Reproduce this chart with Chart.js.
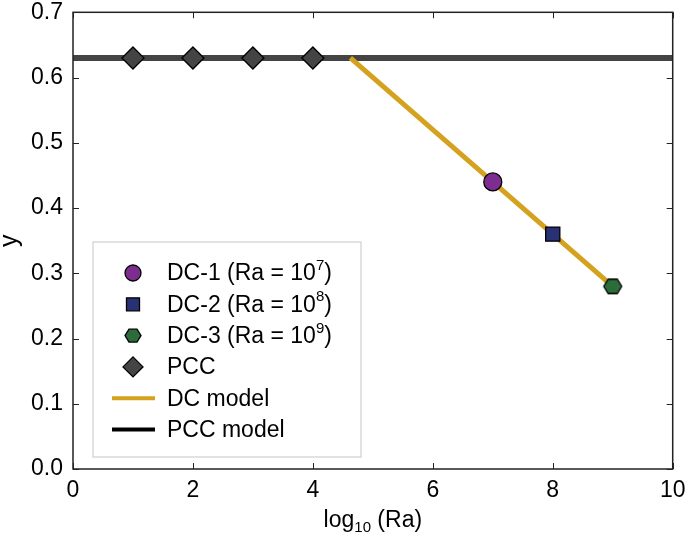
<!DOCTYPE html>
<html>
<head>
<meta charset="utf-8">
<script src="https://cdn.jsdelivr.net/npm/chart.js@4.4.1/dist/chart.umd.min.js"></script>
<style>
  html, body { margin: 0; padding: 0; background: #fff; }
  #wrap { width: 685px; height: 534px; }
</style>
</head>
<body>
<div id="wrap"><canvas id="c" width="685" height="534"></canvas></div>
<script>
// ---- data ----
const pccX = [1, 2, 3, 4];
const pccY = [0.63, 0.63, 0.63, 0.63];
const dc1 = [7, 0.44];
const dc2 = [8, 0.36];
const dc3 = [9, 0.28];
const pccModelX = [0, 10];
const pccModelY = [0.63, 0.63];
const dcModelX = [4.625, 9];
const dcModelY = [0.63, 0.28];
const xTicks = [0, 2, 4, 6, 8, 10];
const yTicks = [0, 0.1, 0.2, 0.3, 0.4, 0.5, 0.6, 0.7];

const FONT = '"Liberation Sans", Arial, Helvetica, sans-serif';
const FS = 23;      // main text size
const FS_SMALL = 15;
const C_DC1 = '#7d2d8f';
const C_DC2 = '#283174';
const C_DC3 = '#2c6b3a';
const C_PCC = '#444444';
const C_DCLINE = '#d4a21f';

function pts(xs, ys) {
    return xs.map((x, i) => ({ x: x, y: ys[i] }));
}

// hexagon marker (no built-in style for it)
function hexPath(ctx, cx, cy, r) {
    ctx.beginPath();
    for (let i = 0; i < 6; i++) {
        const a = Math.PI / 3 * i;
        const px = cx + r * Math.cos(a);
        const py = cy + r * Math.sin(a) * 0.93;
        if (i === 0) ctx.moveTo(px, py); else ctx.lineTo(px, py);
    }
    ctx.closePath();
}
function makeHex(r) {
    const cv = document.createElement('canvas');
    cv.width = cv.height = 2 * r + 4;
    const g = cv.getContext('2d');
    hexPath(g, r + 2, r + 2, r);
    g.fillStyle = C_DC3;
    g.fill();
    g.lineWidth = 1.3;
    g.strokeStyle = '#000';
    g.stroke();
    return cv;
}
const hexImg = makeHex(9);

// legend entries
const legendItems = [
    { kind: 'circle', color: C_DC1, text: 'DC-1 (Ra = 10', sup: '7' },
    { kind: 'rect', color: C_DC2, text: 'DC-2 (Ra = 10', sup: '8' },
    { kind: 'hex', color: C_DC3, text: 'DC-3 (Ra = 10', sup: '9' },
    { kind: 'diamond', color: C_PCC, text: 'PCC' },
    { kind: 'line', color: C_DCLINE, text: 'DC model' },
    { kind: 'line', color: '#000', text: 'PCC model' }
];

const framePlugin = {
    id: 'frame',
    afterDraw(chart) {
        const ctx = chart.ctx;
        const a = chart.chartArea;
        const xs = chart.scales.x, ys = chart.scales.y;
        ctx.save();
        // frame
        ctx.strokeStyle = '#222';
        ctx.lineWidth = 1.5;
        ctx.strokeRect(a.left, a.top, a.right - a.left, a.bottom - a.top);
        // inward ticks on all sides
        ctx.lineWidth = 1;
        ctx.beginPath();
        xTicks.forEach(v => {
            const px = Math.round(xs.getPixelForValue(v)) + 0.5;
            ctx.moveTo(px, a.bottom); ctx.lineTo(px, a.bottom - 6);
            ctx.moveTo(px, a.top); ctx.lineTo(px, a.top + 6);
        });
        yTicks.forEach(v => {
            const py = Math.round(ys.getPixelForValue(v)) + 0.5;
            ctx.moveTo(a.left, py); ctx.lineTo(a.left + 6, py);
            ctx.moveTo(a.right, py); ctx.lineTo(a.right - 6, py);
        });
        ctx.stroke();

        // axis titles
        ctx.fillStyle = '#000';
        ctx.textBaseline = 'alphabetic';
        const cx = (a.left + a.right) / 2;
        ctx.font = FS + 'px ' + FONT;
        const w1 = ctx.measureText('log').width;
        const w3 = ctx.measureText(' (Ra)').width;
        ctx.font = FS_SMALL + 'px ' + FONT;
        const w2 = ctx.measureText('10').width;
        let x0 = cx - (w1 + w2 + w3) / 2;
        const base = 527;
        ctx.font = FS + 'px ' + FONT;
        ctx.textAlign = 'left';
        ctx.fillText('log', x0, base);
        ctx.font = FS_SMALL + 'px ' + FONT;
        ctx.fillText('10', x0 + w1, base + 5);
        ctx.font = FS + 'px ' + FONT;
        ctx.fillText(' (Ra)', x0 + w1 + w2, base);

        ctx.save();
        ctx.translate(17, (a.top + a.bottom) / 2);
        ctx.rotate(-Math.PI / 2);
        ctx.textAlign = 'center';
        ctx.font = '25px ' + FONT;
        ctx.fillText('y', 0, 0);
        ctx.restore();

        // legend
        const lx = 93, ly = 242, lw = 268, lh = 215;
        ctx.fillStyle = 'rgba(255,255,255,0.9)';
        ctx.fillRect(lx, ly, lw, lh);
        ctx.strokeStyle = '#cfcfcf';
        ctx.lineWidth = 1.2;
        ctx.strokeRect(lx, ly, lw, lh);
        legendItems.forEach((it, i) => {
            const ry = 273 + i * 31.3;
            const mx = 133;
            ctx.strokeStyle = '#000';
            ctx.lineWidth = 1.3;
            ctx.fillStyle = it.color;
            if (it.kind === 'circle') {
                ctx.beginPath(); ctx.arc(mx, ry, 8, 0, Math.PI * 2); ctx.fill(); ctx.stroke();
            } else if (it.kind === 'rect') {
                ctx.beginPath(); ctx.rect(mx - 6.5, ry - 6.5, 13, 13); ctx.fill(); ctx.stroke();
            } else if (it.kind === 'hex') {
                hexPath(ctx, mx, ry, 8); ctx.fill(); ctx.stroke();
            } else if (it.kind === 'diamond') {
                ctx.beginPath();
                ctx.moveTo(mx, ry - 10); ctx.lineTo(mx + 10, ry); ctx.lineTo(mx, ry + 10); ctx.lineTo(mx - 10, ry);
                ctx.closePath(); ctx.fill(); ctx.stroke();
            } else {
                ctx.strokeStyle = it.color;
                ctx.lineWidth = 4;
                ctx.beginPath(); ctx.moveTo(112, ry); ctx.lineTo(155, ry); ctx.stroke();
            }
            ctx.fillStyle = '#000';
            ctx.textAlign = 'left';
            ctx.textBaseline = 'middle';
            ctx.font = FS + 'px ' + FONT;
            ctx.fillText(it.text, 167, ry + 1);
            if (it.sup) {
                let tx = 167 + ctx.measureText(it.text).width;
                ctx.font = FS_SMALL + 'px ' + FONT;
                ctx.fillText(it.sup, tx, ry - 7);
                tx += ctx.measureText(it.sup).width;
                ctx.font = FS + 'px ' + FONT;
                ctx.fillText(')', tx, ry + 1);
            }
        });
        ctx.restore();
    }
};

new Chart(document.getElementById('c'), {
    type: 'scatter',
    data: {
        datasets: [
            { label: 'PCC model', data: pts(pccModelX, pccModelY), showLine: true,
              borderColor: C_PCC, borderWidth: 6, pointRadius: 0, order: 6 },
            { label: 'DC model', data: pts(dcModelX, dcModelY), showLine: true,
              borderColor: C_DCLINE, borderWidth: 5, pointRadius: 0, order: 5 },
            { label: 'PCC', data: pts(pccX, pccY), pointStyle: 'rectRot', pointRadius: 11,
              backgroundColor: C_PCC, borderColor: '#000', borderWidth: 1.3, order: 4 },
            { label: 'DC-1', data: [{ x: dc1[0], y: dc1[1] }], pointStyle: 'circle', pointRadius: 9,
              backgroundColor: C_DC1, borderColor: '#000', borderWidth: 1.3, order: 3 },
            { label: 'DC-2', data: [{ x: dc2[0], y: dc2[1] }], pointStyle: 'rect', pointRadius: 10,
              backgroundColor: C_DC2, borderColor: '#000', borderWidth: 1.3, order: 2 },
            { label: 'DC-3', data: [{ x: dc3[0], y: dc3[1] }], pointStyle: hexImg, pointRadius: 9,
              order: 1 }
        ]
    },
    options: {
        responsive: false,
        animation: false,
        layout: { padding: { top: 8, right: 12, left: 0, bottom: 0 } },
        plugins: { legend: { display: false }, tooltip: { enabled: false } },
        scales: {
            x: {
                type: 'linear', min: 0, max: 10,
                afterBuildTicks: s => { s.ticks = xTicks.map(v => ({ value: v })); },
                afterFit: s => { s.height = 65; s.paddingLeft = 0; s.paddingRight = 0; },
                grid: { display: false, drawTicks: false }, border: { display: false },
                ticks: { color: '#000', padding: 8, maxRotation: 0, font: { family: FONT, size: FS },
                         callback: v => String(v) }
            },
            y: {
                type: 'linear', min: 0, max: 0.7,
                afterBuildTicks: s => { s.ticks = yTicks.map(v => ({ value: v })); },
                afterFit: s => { s.width = 73; s.paddingTop = 0; s.paddingBottom = 0; },
                grid: { display: false, drawTicks: false }, border: { display: false },
                ticks: { color: '#000', padding: 10, font: { family: FONT, size: FS },
                         callback: v => Number(v).toFixed(1) }
            }
        }
    },
    plugins: [framePlugin]
});
</script>
</body>
</html>
